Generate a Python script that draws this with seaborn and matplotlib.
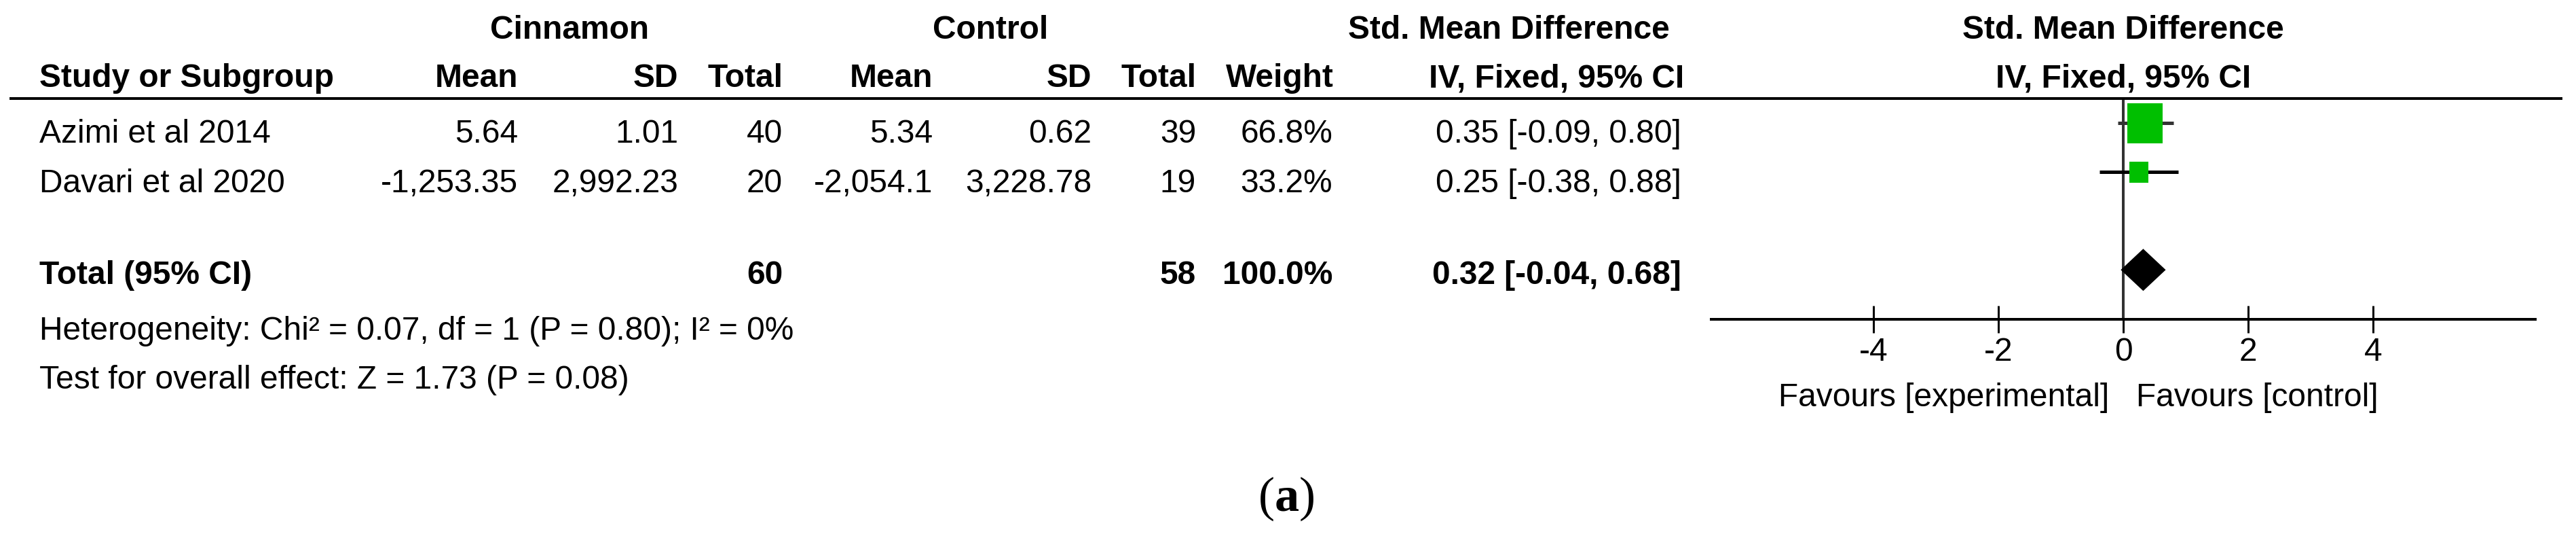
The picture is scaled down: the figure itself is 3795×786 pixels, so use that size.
import matplotlib
matplotlib.use("Agg")
import matplotlib.pyplot as plt
from matplotlib.lines import Line2D
import seaborn as sns
import pandas as pd

# ---------------- data ----------------
studies = ["Azimi et al 2014", "Davari et al 2020"]
cin_mean = [5.64, -1253.35]
cin_sd = [1.01, 2992.23]
cin_total = [40, 20]
ctl_mean = [5.34, -2054.1]
ctl_sd = [0.62, 3228.78]
ctl_total = [39, 19]
weights = [66.8, 33.2]
smd = [0.35, 0.25]
smd_lo = [-0.09, -0.38]
smd_hi = [0.80, 0.88]

total_label = "Total (95% CI)"
total_cin = 60
total_ctl = 58
total_weight = 100.0
total_smd = 0.32
total_lo = -0.04
total_hi = 0.68

heterogeneity = "Heterogeneity: Chi\u00b2 = 0.07, df = 1 (P = 0.80); I\u00b2 = 0%"
overall = "Test for overall effect: Z = 1.73 (P = 0.08)"
x_ticks = [-4, -2, 0, 2, 4]
x_tick_labels = ["-4", "-2", "0", "2", "4"]
favours_left = "Favours [experimental]"
favours_right = "Favours [control]"
panel_label = "a"

# ---------------- style ----------------
sns.set_theme(style="white")
plt.rcParams["font.family"] = ["Liberation Sans Narrow", "Liberation Sans", "DejaVu Sans"]
plt.rcParams["mathtext.fontset"] = "custom"
plt.rcParams["mathtext.rm"] = "Liberation Serif"
plt.rcParams["mathtext.bf"] = "Liberation Serif:bold"

W, H = 3795, 786
DPI = 100
fig = plt.figure(figsize=(W / DPI, H / DPI), dpi=DPI)
fig.patch.set_facecolor("white")
PX = 72.0 / DPI  # points per pixel
FS = 34.5


def fx(px):
    return px / W


def fy(py):
    return 1 - py / H


def txt(x, y, s, ha="left", bold=False, **kw):
    fig.text(fx(x), fy(y), s, ha=ha, va="baseline", fontsize=FS,
             fontweight="bold" if bold else "normal", color="black", **kw)


def fmt_num(v):
    s = f"{v:,.2f}"
    if s.endswith("0"):
        s = s.rstrip("0").rstrip(".")
    return s


# column right edges (pixels)
C_CMEAN, C_CSD, C_CTOT = 763, 999, 1153
C_KMEAN, C_KSD, C_KTOT = 1374, 1608, 1762
C_W, C_CI = 1963, 2477
X_LEFT = 58
ZERO_X = 3128

# headers
txt(839, 57, "Cinnamon", ha="center", bold=True)
txt(1459, 57, "Control", ha="center", bold=True)
txt(2460, 57, "Std. Mean Difference", ha="right", bold=True)
txt(ZERO_X, 57, "Std. Mean Difference", ha="center", bold=True)

txt(X_LEFT, 128, "Study or Subgroup", bold=True)
txt(C_CMEAN, 128, "Mean", ha="right", bold=True)
txt(C_CSD, 128, "SD", ha="right", bold=True)
txt(C_CTOT, 128, "Total", ha="right", bold=True)
txt(C_KMEAN, 128, "Mean", ha="right", bold=True)
txt(C_KSD, 128, "SD", ha="right", bold=True)
txt(C_KTOT, 128, "Total", ha="right", bold=True)
txt(C_W + 2, 128, "Weight", ha="right", bold=True)
txt(C_CI + 4, 128, "IV, Fixed, 95% CI", ha="right", bold=True)
txt(ZERO_X, 128, "IV, Fixed, 95% CI", ha="center", bold=True)

fig.add_artist(Line2D([fx(14), fx(3775)], [fy(145), fy(145)],
                      color="black", lw=4 * PX, solid_capstyle="butt"))

# study rows
row_base = [210, 283]
for i, name in enumerate(studies):
    y = row_base[i]
    txt(X_LEFT, y, name)
    txt(C_CMEAN, y, fmt_num(cin_mean[i]), ha="right")
    txt(C_CSD, y, fmt_num(cin_sd[i]), ha="right")
    txt(C_CTOT, y, f"{cin_total[i]}", ha="right")
    txt(C_KMEAN, y, fmt_num(ctl_mean[i]), ha="right")
    txt(C_KSD, y, fmt_num(ctl_sd[i]), ha="right")
    txt(C_KTOT, y, f"{ctl_total[i]}", ha="right")
    txt(C_W, y, f"{weights[i]:.1f}%", ha="right")
    txt(C_CI, y, f"{smd[i]:.2f} [{smd_lo[i]:.2f}, {smd_hi[i]:.2f}]", ha="right")

# total row
txt(X_LEFT, 418, total_label, bold=True)
txt(C_CTOT, 418, f"{total_cin}", ha="right", bold=True)
txt(C_KTOT, 418, f"{total_ctl}", ha="right", bold=True)
txt(C_W, 418, f"{total_weight:.1f}%", ha="right", bold=True)
txt(C_CI, 418, f"{total_smd:.2f} [{total_lo:.2f}, {total_hi:.2f}]", ha="right", bold=True)

txt(X_LEFT, 500, heterogeneity)
txt(X_LEFT, 572, overall)

# ---------------- forest axes ----------------
AX_L, AX_R, AX_T, AX_B = 2521, 3735, 145, 470
ax = fig.add_axes([fx(AX_L), fy(AX_B), fx(AX_R) - fx(AX_L), fy(AX_T) - fy(AX_B)])
ax.set_facecolor("none")
ax.set_xlim(-6.6, 6.6)
row_y = [0, 1]
total_y = 3
ax.set_ylim(4.01, -0.5)

ax.axvline(0, color="#333333", lw=4 * PX, zorder=1)

ci_colors = ["#333333", "black"]
for i in range(len(studies)):
    ax.plot([smd_lo[i], smd_hi[i]], [row_y[i], row_y[i]], color=ci_colors[i],
            lw=5 * PX, solid_capstyle="butt", zorder=2)

df = pd.DataFrame({"smd": smd, "row": row_y, "weight": weights})
rect = [(-0.44, -0.5), (0.44, -0.5), (0.44, 0.5), (-0.44, 0.5), (-0.44, -0.5)]
sns.scatterplot(data=df, x="smd", y="row", size="weight",
                sizes=((31 * PX) ** 2, (59 * PX) ** 2), marker=rect,
                color="#00BF00", edgecolor="none", linewidth=0,
                legend=False, ax=ax, zorder=3)

dh = 0.43
ax.fill([total_lo, total_smd, total_hi, total_smd, total_lo],
        [total_y, total_y - dh, total_y, total_y + dh, total_y],
        color="black", lw=0, zorder=3)

for side in ["top", "left", "right"]:
    ax.spines[side].set_visible(False)
ax.spines["bottom"].set_color("black")
ax.spines["bottom"].set_linewidth(4 * PX)
ax.set_yticks([])
ax.set_xticks(x_ticks)
ax.set_xticklabels(x_tick_labels)
ax.tick_params(axis="x", direction="inout", length=40 * PX, width=3 * PX,
               color="black", pad=4.5, labelsize=FS, labelcolor="black", bottom=True)
ax.set_xlabel("")
ax.set_ylabel("")

txt(3107, 598, favours_left, ha="right")
txt(3147, 598, favours_right, ha="left")

fig.text(fx(1895), fy(752), r"($\mathbf{" + panel_label + r"}$)", ha="center",
         va="baseline", fontsize=52, family="Liberation Serif", color="black")

fig.savefig("out.png", dpi=DPI, facecolor="white")
